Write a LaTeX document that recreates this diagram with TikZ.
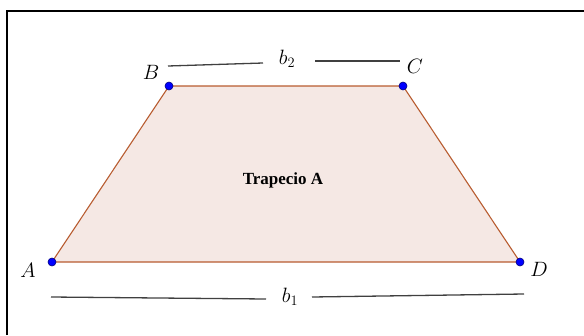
\documentclass[tikz,border=0pt]{standalone}
\usepackage{fontspec}
\newfontfamily\trapfont{Liberation Serif}
\begin{document}
\begin{tikzpicture}[x=1pt,y=-1pt,
  vtx/.style={circle,fill=blue,draw=blue!50!black,line width=0.6pt,inner sep=0pt,minimum size=8pt},
  lbl/.style={font=\fontsize{22}{26}\selectfont},
  seg/.style={draw=black!75,line width=1.3pt},
  side/.style={line width=1.1pt}]
\useasboundingbox (0,0) rectangle (584,335);
\draw[line width=2pt] (7,335) -- (7,11) -- (584,11);
\coordinate (A) at (52,262);
\coordinate (B) at (169,86);
\coordinate (C) at (403,86);
\coordinate (D) at (520,262);
\fill[fill={rgb,255:red,245;green,232;blue,228}] (A) -- (B) -- (C) -- (D) -- cycle;
\draw[side,draw={rgb,255:red,184;green,92;blue,48}] (A) -- (B) -- (C) -- (D) -- cycle;
\node[vtx] (vA) at (A) {};
\node[vtx] (vB) at (B) {};
\node[vtx] (vC) at (C) {};
\node[vtx] (vD) at (D) {};
\node[lbl] (lA) at (28,270) {$A$};
\node[lbl] (lB) at (151,72) {$B$};
\node[lbl] (lC) at (415,66) {$C$};
\node[lbl] (lD) at (539,269) {$D$};
\node[lbl] (b2) at (287,59) {$b_2$};
\node[lbl] (b1) at (290,297) {$b_1$};
\coordinate (b2l) at (168,66);
\coordinate (b2le) at (263,63);
\coordinate (b2r) at (315,61);
\coordinate (b2re) at (400,61);
\draw[seg] (b2l) -- (b2le);
\draw[seg] (b2r) -- (b2re);
\coordinate (b1l) at (51,297);
\coordinate (b1le) at (266,299);
\coordinate (b1r) at (312,297);
\coordinate (b1re) at (524,294);
\draw[seg] (b1l) -- (b1le);
\draw[seg] (b1r) -- (b1re);
\node[font=\trapfont\fontsize{17}{20}\selectfont\bfseries] (t) at (283,180) {Trapecio A};
\end{tikzpicture}
\end{document}
